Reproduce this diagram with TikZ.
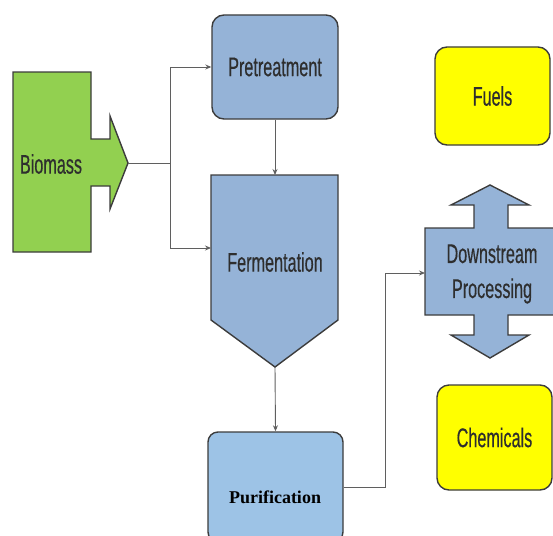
\documentclass[tikz,border=0pt]{standalone}
\usepackage{fontspec}
\setmainfont{Liberation Serif}
\newfontfamily\gothic[FakeStretch=0.6,FakeBold=0.4]{Liberation Sans}
\usetikzlibrary{arrows.meta}
\definecolor{biogreen}{RGB}{146,208,80}
\definecolor{procblue}{RGB}{149,179,215}
\definecolor{purblue}{RGB}{157,195,230}
\definecolor{prodyel}{RGB}{255,255,0}
\definecolor{edge}{RGB}{60,60,60}
\definecolor{wire}{RGB}{95,95,95}

\begin{document}
\begin{tikzpicture}[x=1pt,y=-1pt,>={Stealth[length=6pt,width=5pt]},
  box/.style={draw=edge,line width=1.4pt,rounded corners=12pt,inner sep=0pt},
  lbl/.style={font=\gothic\fontsize{27}{35}\selectfont,text=black!82,align=center},
  wire/.style={draw=wire,line width=0.9pt}]
\useasboundingbox (0,0) rectangle (553,535);
\clip (0,0) rectangle (553,535);

% biomass feed arrow
\draw[fill=biogreen,draw=edge,line width=1.4pt] (13,72) -- (91,72) -- (91,139) -- (110,139) -- (110,116) -- (128,163)
  -- (110,209) -- (110,186) -- (91,186) -- (91,252) -- (13,252) -- cycle;
\node[lbl] (bio) at (51,164) {Biomass};
\coordinate (bio-tip) at (128,163);
\coordinate (split) at (170,163);

% process chain
\node[box,lbl,fill=procblue,minimum width=126pt,minimum height=104pt] (pre) at (275,67) {Pretreatment};
\draw[fill=procblue,draw=edge,line width=1.4pt] (211,175) -- (338,175) -- (338,320) -- (275,367) -- (211,320) -- cycle;
\node[lbl] (fer) at (275,262) {Fermentation};
\coordinate (fer-top) at (275,175);
\coordinate (fer-tip) at (275,367);
\coordinate (fer-in) at (211,248);
\node[box,rounded corners=10pt,fill=purblue,minimum width=135pt,minimum height=110pt] (pur) at (275.5,487) {};
\node[font=\bfseries\fontsize{18}{21}\selectfont] (pur-txt) at (275,497) {Purification};

% downstream block
\draw[fill=procblue,draw=edge,line width=1.4pt] (425,228) -- (474,228) -- (474,205) -- (451,205) -- (490,185) -- (529,205)
  -- (508,205) -- (508,228) -- (556,228) -- (556,315) -- (508,315) -- (508,335) -- (529,335) -- (490,358)
  -- (451,335) -- (474,335) -- (474,315) -- (425,315) -- cycle;
\node[lbl] (dsp) at (492,274) {Downstream\\Processing};
\coordinate (dsp-in) at (425,273);

% products
\node[box,lbl,fill=prodyel,minimum width=115pt,minimum height=98pt] (fuel) at (492.5,96) {Fuels};
\node[box,lbl,fill=prodyel,minimum width=115pt,minimum height=105pt] (chem) at (494.5,437.5) {Chemicals};

% connectors
\draw[wire] (bio-tip) -- (split);
\draw[wire,->] (split) |- (pre.west);
\draw[wire,->] (split) |- (fer-in);
\draw[wire,->] (pre.south) -- (fer-top);
\draw[wire,->] (fer-tip) -- (pur.north);
\draw[wire,->] (pur.east) -- ++(42,0) |- (dsp-in);
\end{tikzpicture}
\end{document}
